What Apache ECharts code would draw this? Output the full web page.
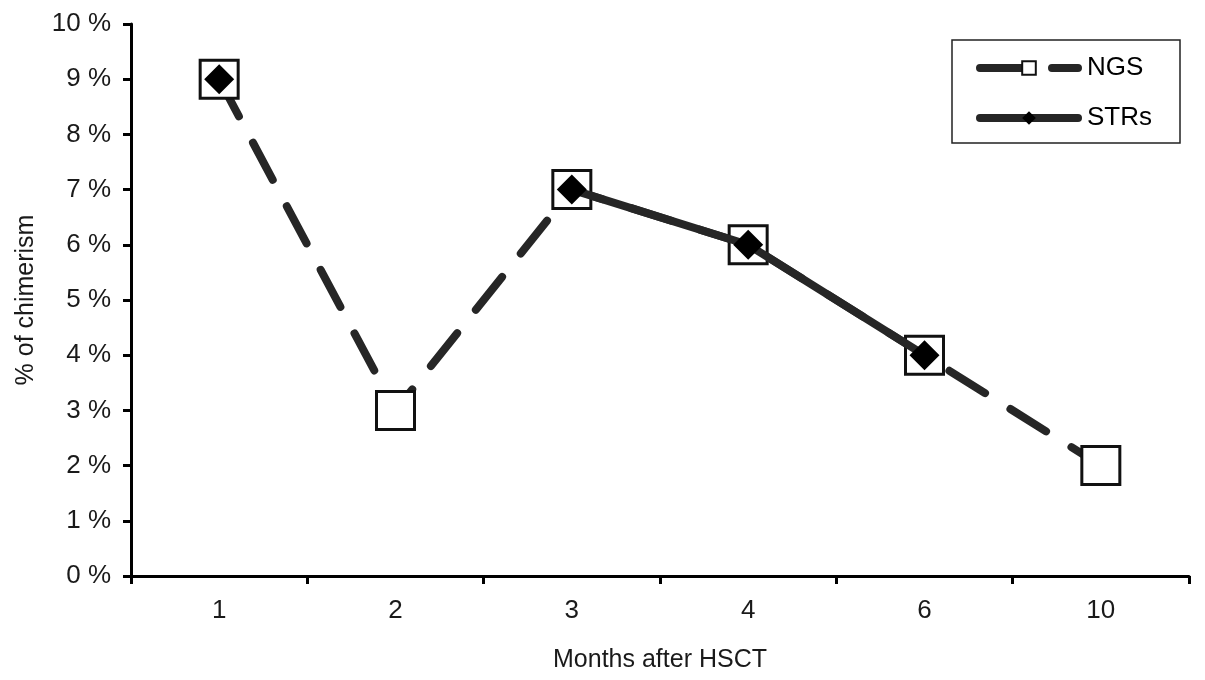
<!DOCTYPE html>
<html><head><meta charset="utf-8">
<script src="https://cdn.jsdelivr.net/npm/echarts@6/dist/echarts.min.js"></script>
<style>html,body{margin:0;padding:0;background:#fff}#c{width:1205px;height:680px}</style>
</head><body><div id="c"></div>
<script>
const categories = ['1','2','3','4','6','10'];
const ngsValues = [9, 3, 7, 6, 4, 2];
const strValues = [9, null, 7, 6, 4, null];
const yTicks = [0,1,2,3,4,5,6,7,8,9,10];

const chart = echarts.init(document.getElementById('c'));
const font = 'Liberation Sans, Arial, sans-serif';
chart.setOption({
  animation: false,
  backgroundColor: '#fff',
  grid: {left: 131, right: 16, top: 24, bottom: 104},
  legend: {
    right: 25, top: 40, orient: 'vertical',
    padding: [15, 28, 12, 24],
    itemGap: 24,
    borderColor: '#222', borderWidth: 1.5,
    itemWidth: 98, itemHeight: 17,
    lineStyle: {width: 8},
    textStyle: {fontFamily: font, fontSize: 26, color: '#000', padding: [0, 0, 0, 4]},
    data: ['NGS', 'STRs']
  },
  xAxis: {
    type: 'category', data: categories,
    name: 'Months after HSCT', nameLocation: 'middle', nameGap: 72,
    nameTextStyle: {fontFamily: font, fontSize: 25, color: '#1a1a1a'},
    axisLine: {lineStyle: {color: '#000', width: 3}},
    axisTick: {show: true, inside: false, length: 8, alignWithLabel: false, lineStyle: {color: '#000', width: 3}},
    axisLabel: {fontFamily: font, fontSize: 26, color: '#1a1a1a', margin: 22}
  },
  yAxis: {
    type: 'value', min: 0, max: 10, interval: 1,
    name: '% of chimerism', nameLocation: 'middle', nameGap: 92, nameRotate: 90,
    nameTextStyle: {fontFamily: font, fontSize: 25, color: '#1a1a1a'},
    splitLine: {show: false},
    axisLine: {show: true, lineStyle: {color: '#000', width: 3}},
    axisTick: {show: true, length: 8, lineStyle: {color: '#000', width: 3}},
    axisLabel: {fontFamily: font, fontSize: 26, color: '#1a1a1a', margin: 20,
      formatter: v => yTicks.includes(v) ? v + ' %' : ''}
  },
  series: [
    {
      name: 'NGS', type: 'line', data: ngsValues,
      symbol: 'rect', symbolSize: 38,
      lineStyle: {color: '#262626', width: 8, type: [42, 30], cap: 'round'},
      itemStyle: {color: '#fff', borderColor: '#111', borderWidth: 3},
      z: 2
    },
    {
      name: 'STRs', type: 'line', data: strValues,
      symbol: 'diamond', symbolSize: 30, connectNulls: false,
      lineStyle: {color: '#262626', width: 8, type: 'solid', cap: 'round'},
      itemStyle: {color: '#000', borderColor: '#000', borderWidth: 0},
      z: 3
    }
  ]
});
</script></body></html>
